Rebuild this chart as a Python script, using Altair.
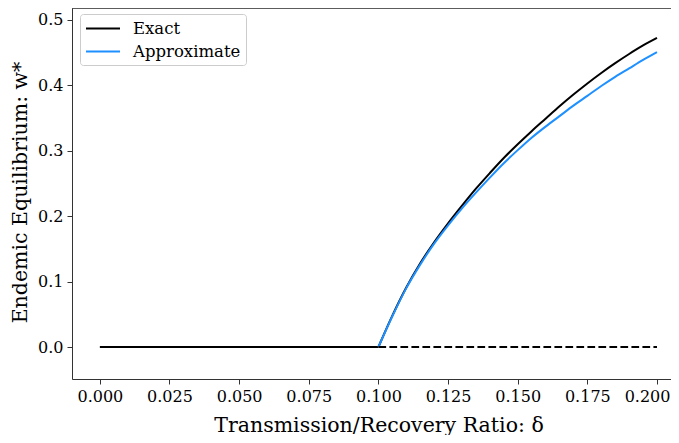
import altair as alt
import pandas as pd

# ---- data ----
delta_grid = [0.100, 0.105, 0.110, 0.115, 0.120, 0.125, 0.130, 0.135, 0.140, 0.145,
              0.150, 0.155, 0.160, 0.165, 0.170, 0.175, 0.180, 0.185, 0.190, 0.195,
              0.200]
w_exact = [0.000, 0.048, 0.091, 0.128, 0.160, 0.189, 0.216, 0.242, 0.266, 0.289,
           0.310, 0.330, 0.349, 0.368, 0.386, 0.403, 0.419, 0.434, 0.448, 0.461,
           0.4725]
w_approx = [0.000, 0.047, 0.090, 0.126, 0.158, 0.186, 0.212, 0.236, 0.259, 0.281,
            0.301, 0.320, 0.337, 0.353, 0.369, 0.384, 0.399, 0.413, 0.426, 0.439,
            0.451]

delta_stable_zero = [0.000, 0.100]
w_stable_zero = [0.0, 0.0]
delta_unstable = [0.100, 0.200]
w_unstable = [0.0, 0.0]

series_names = ["Exact", "Approximate"]
series_colors = ["#000000", "#1e90ff"]

x_ticks = [0.0, 0.025, 0.05, 0.075, 0.1, 0.125, 0.15, 0.175, 0.2]
y_ticks = [0.0, 0.1, 0.2, 0.3, 0.4, 0.5]

curves = pd.concat([
    pd.DataFrame({"delta": delta_grid, "w": w_exact, "series": "Exact"}),
    pd.DataFrame({"delta": delta_grid, "w": w_approx, "series": "Approximate"}),
], ignore_index=True)
stable_zero = pd.DataFrame({"delta": delta_stable_zero, "w": w_stable_zero})
unstable = pd.DataFrame({"delta": delta_unstable, "w": w_unstable})

W, H = 599, 371
FONT = "DejaVu Serif"

xscale = alt.Scale(domain=[-0.01, 0.20503], nice=False, zero=False)
yscale = alt.Scale(domain=[-0.0489, 0.5183], nice=False, zero=False)

common_axis = dict(grid=False, labelFont=FONT, labelFontSize=16, labelColor="#000",
                   titleFont=FONT, titleFontSize=20.5, titleFontWeight="normal",
                   titleColor="#000", tickSize=5, labelPadding=4,
                   domainColor="#333", tickColor="#333", domainWidth=1, tickWidth=1)

xaxis = alt.Axis(values=x_ticks, format=".3f", title="Transmission/Recovery Ratio: δ",
                 titleX=306.5, titleY=52, titleBaseline="alphabetic",
                 titleAlign="center", labelFlush=20, labelFlushOffset=13,
                 **common_axis)
yaxis = alt.Axis(values=y_ticks, format=".1f", title="Endemic Equilibrium: w*",
                 titleX=-52, titleY=184, titleAngle=270, titleBaseline="middle",
                 titleAlign="center", **common_axis)

zero_line = alt.Chart(stable_zero).mark_line(strokeWidth=2, color="#000000").encode(
    x=alt.X("delta:Q", scale=xscale, axis=xaxis),
    y=alt.Y("w:Q", scale=yscale, axis=yaxis),
)

lines = alt.Chart(curves).mark_line(strokeWidth=2, interpolate="monotone").encode(
    x=alt.X("delta:Q", scale=xscale),
    y=alt.Y("w:Q", scale=yscale),
    color=alt.Color("series:N",
                    scale=alt.Scale(domain=series_names, range=series_colors),
                    legend=alt.Legend(title=None, orient="none", legendX=8, legendY=6,
                                      symbolType="M-1,0H3", symbolSize=289,
                                      symbolStrokeWidth=2, labelFont=FONT,
                                      labelFontSize=16.5, labelColor="#000",
                                      labelOffset=29, padding=5, rowPadding=5,
                                      fillColor="#ffffff", strokeColor="#cccccc",
                                      cornerRadius=3)),
    order=alt.Order("delta:Q"),
)

dashed = alt.Chart(unstable).mark_line(strokeWidth=2, color="#000000",
                                       strokeDash=[7.7, 3.3]).encode(
    x=alt.X("delta:Q", scale=xscale),
    y=alt.Y("w:Q", scale=yscale),
)

top_spine = alt.Chart(unstable).mark_rule(color="#333", strokeWidth=1).encode(
    x=alt.value(0), x2=alt.value(W), y=alt.value(0)
)

chart = alt.layer(zero_line, lines, dashed, top_spine).properties(
    width=W, height=H,
    autosize=alt.AutoSizeParams(type="none"),
    padding={"left": 64, "top": 0, "right": 0, "bottom": 56},
).configure_view(strokeWidth=0).configure(background="#ffffff")

chart.save("out.html", embed_options={"renderer": "svg", "actions": False})
